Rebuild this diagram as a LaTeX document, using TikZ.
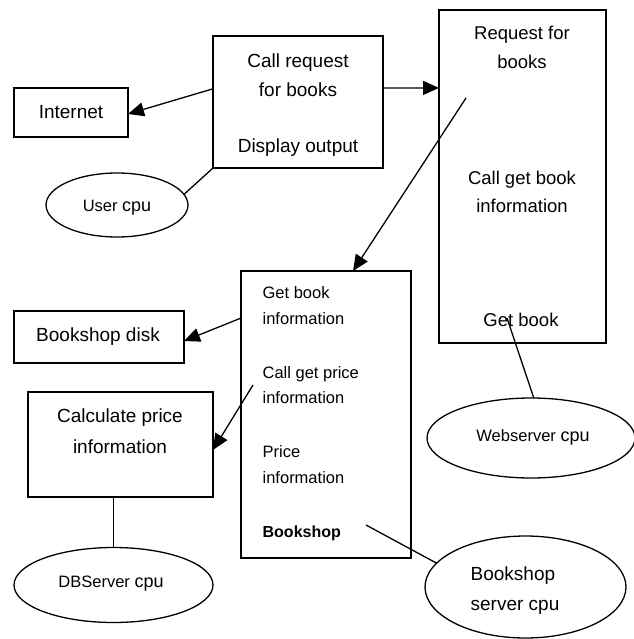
\documentclass[tikz,border=0pt]{standalone}
\usepackage{fontspec}
\setmainfont{Liberation Sans}
\usetikzlibrary{shapes.geometric,arrows.meta,calc}

\begin{document}
\begin{tikzpicture}[x=1pt,y=-1pt,
  line width=1.3pt,
  box/.style={draw,rectangle,inner sep=0pt,outer sep=0pt,anchor=north west},
  oval/.style={draw,ellipse,inner sep=0pt,outer sep=0pt},
  txt/.style={inner sep=0pt,anchor=base,font=\fontsize{19}{22}\selectfont},
  reqtxt/.style={txt,font=\fontsize{18.5}{22}\selectfont},
  shoptxt/.style={inner sep=0pt,anchor=base west,font=\fontsize{16.5}{20}\selectfont},
  cputxt/.style={inner sep=0pt,anchor=base,font=\fontsize{16.5}{20}\selectfont},
  arr/.style={-{Triangle[length=16pt,width=14pt]}},
  link/.style={-}
]
\useasboundingbox (0,0) rectangle (633,639);

% boxes
\node[box,minimum width=114pt,minimum height=49pt] (internet) at (14,88) {};
\node[box,minimum width=170pt,minimum height=132pt] (callreq) at (213,36) {};
\node[box,minimum width=167pt,minimum height=333pt] (request) at (439,10) {};
\node[box,minimum width=170pt,minimum height=287pt] (shop) at (241,271) {};
\node[box,minimum width=170pt,minimum height=52pt] (disk) at (14,311) {};
\node[box,minimum width=185pt,minimum height=105pt] (calc) at (28,392) {};

% processors
\node[oval,minimum width=142pt,minimum height=64pt] (usercpu) at (117,205) {};
\node[oval,minimum width=208pt,minimum height=80pt] (webcpu) at (531,438) {};
\node[oval,minimum width=199pt,minimum height=75pt] (dbcpu) at (113.5,585) {};
\node[oval,minimum width=201pt,minimum height=102pt] (shopcpu) at (525.5,587) {};

% box texts
\node[txt] (tinternet) at (71,119) {Internet};
\node[txt] (tcall1) at (298,68) {Call request};
\node[txt] (tcall2) at (298,97) {for books};
\node[txt] (tdisplay) at (298,153) {Display output};

\node[reqtxt] (treq1) at (522,40) {Request for};
\node[reqtxt] (treq2) at (522,69) {books};
\node[reqtxt] (treq3) at (522,184) {Call get book};
\node[reqtxt] (treq4) at (522,212) {information};
\node[reqtxt] (treq5) at (521,326) {Get book};

\node[shoptxt] (ts1) at (262,298) {Get book};
\node[shoptxt] (ts2) at (262,324) {information};
\node[shoptxt] (ts3) at (262,378) {Call get price};
\node[shoptxt] (ts4) at (262,403) {information};
\node[shoptxt] (ts5) at (262,457) {Price};
\node[shoptxt] (ts6) at (262,483) {information};
\node[shoptxt,font=\fontsize{16}{20}\selectfont\bfseries] (ts7) at (262,537) {Bookshop};

\node[txt] (tdisk) at (98,341) {Bookshop disk};
\node[txt] (tcalc1) at (120,422) {Calculate price};
\node[txt] (tcalc2) at (120,453) {information};

% processor labels
\node[cputxt] (tuser) at (117,211) {User {\fontsize{18}{20}\selectfont cpu}};
\node[cputxt] (tweb) at (533,441) {Webserver {\fontsize{18}{20}\selectfont cpu}};
\node[cputxt] (tdb) at (111,587) {DBServer {\fontsize{18}{20}\selectfont cpu}};
\node[txt,anchor=base west] (tshopcpu1) at (470,580) {Bookshop};
\node[txt,anchor=base west] (tshopcpu2) at (470,610) {server cpu};

% loose ends of connectors inside boxes
\coordinate (reqcall) at (466,98);
\coordinate (reqget) at (507,318);
\coordinate (shopcall) at (253,385);
\coordinate (shopname) at (366,525);

% calls
\draw[arr] ($(callreq.north west)!0.40!(callreq.south west)$) -- ($(internet.north east)!0.53!(internet.south east)$);
\draw[arr] ($(callreq.north east)!0.394!(callreq.south east)$) -- ($(request.north west)!0.234!(request.south west)$);
\draw[arr] (reqcall) -- ($(shop.north west)!0.659!(shop.north east)$);
\draw[arr] ($(shop.north west)!0.164!(shop.south west)$) -- ($(disk.north east)!0.577!(disk.south east)$);
\draw[arr] (shopcall) -- ($(calc.north east)!0.552!(calc.south east)$);

% deployment links
\draw[link] (callreq.south west) -- (usercpu.9);
\draw[link] (reqget) -- (webcpu.86);
\draw[link] (calc.south -| dbcpu.north) -- (dbcpu.north);
\draw[link] (shopname) -- (shopcpu.165);
\end{tikzpicture}
\end{document}
